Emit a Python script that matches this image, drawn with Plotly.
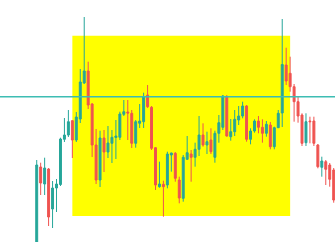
import plotly.graph_objects as go

# OHLC data (price units), one entry per bar
open_ = [100.3, 108.3, 106.6, 108.1, 104.1, 106.2, 106.55, 111.07, 111.5, 112.93,
         111.0, 113.1, 116.7, 117.9, 114.6, 110.5, 107.0, 111.2, 109.8, 110.67,
         111.25, 111.27, 113.57, 113.8, 113.67, 110.67, 112.67, 112.83, 115.5, 114.27,
         110.23, 106.33, 106.57, 106.5, 109.5, 109.67, 107.0, 105.17, 109.07, 109.6,
         109.27, 110.07, 111.5, 110.5, 111.0, 109.27, 111.67, 112.27, 115.33, 111.33,
         111.83, 113.0, 113.4, 114.4, 111.07, 111.9, 112.9, 112.27, 111.67, 112.5,
         110.33, 112.23, 113.7, 118.5, 117.67, 116.33, 114.83, 113.5, 110.73, 112.9,
         112.9, 110.5, 108.27, 108.83, 108.5, 108.0]
high = [109.0, 108.73, 109.23, 108.2, 106.9, 107.1, 111.23, 113.2, 114.0, 113.0,
        113.8, 118.1, 123.3, 118.83, 114.7, 112.1, 111.93, 112.0, 112.4, 112.0,
        113.0, 113.83, 115.0, 115.0, 114.0, 113.0, 114.6, 115.73, 116.5, 114.4,
        110.3, 108.83, 106.93, 109.83, 109.73, 109.8, 107.33, 109.5, 111.4, 110.0,
        110.73, 113.4, 112.67, 111.83, 112.17, 111.93, 113.5, 115.5, 115.5, 113.1,
        114.0, 114.4, 114.83, 114.5, 112.17, 113.07, 113.4, 113.07, 112.9, 112.8,
        112.33, 114.0, 123.1, 120.23, 119.33, 116.6, 115.4, 113.67, 113.67, 113.33,
        113.33, 110.6, 109.33, 109.0, 108.7, 108.2]
low = [99.8, 105.5, 105.5, 102.4, 102.2, 103.8, 106.4, 110.8, 111.3, 109.2,
       110.8, 112.7, 116.6, 114.1, 109.3, 106.6, 106.3, 107.8, 109.2, 108.7,
       109.1, 111.0, 113.4, 111.0, 110.2, 110.23, 112.2, 112.2, 114.2, 110.0,
       106.0, 106.23, 103.33, 106.17, 107.83, 106.83, 104.67, 104.83, 109.0, 106.83,
       108.33, 109.4, 110.33, 109.6, 109.6, 108.73, 110.73, 112.0, 111.33, 110.93,
       111.4, 112.5, 113.17, 110.83, 110.57, 111.73, 111.67, 110.73, 111.33, 110.07,
       110.07, 112.2, 112.3, 116.5, 115.83, 112.83, 112.73, 110.4, 110.4, 110.67,
       110.4, 108.17, 107.33, 106.5, 106.33, 104.73]
close = [108.5, 106.7, 108.2, 103.3, 106.2, 106.6, 111.1, 111.5, 112.83, 111.0,
         113.3, 116.8, 117.9, 114.5, 110.5, 107.0, 111.2, 109.8, 110.7, 111.27,
         111.4, 113.6, 113.83, 113.7, 110.67, 112.83, 112.9, 115.33, 114.33, 110.17,
         106.5, 106.6, 106.33, 109.6, 109.7, 107.17, 105.2, 109.27, 109.73, 109.27,
         110.07, 111.5, 110.5, 110.83, 109.83, 111.67, 112.73, 115.4, 111.4, 111.83,
         113.07, 113.4, 114.4, 111.07, 111.9, 112.9, 112.27, 111.67, 112.57, 110.33,
         112.23, 113.67, 118.55, 116.9, 116.33, 114.83, 113.4, 110.67, 112.83, 112.83,
         110.67, 108.33, 108.9, 108.07, 107.07, 105.0]
bars = list(range(len(close)))

# Annotation values
zone_start, zone_end = 9, 64
zone_low, zone_high = 103.4, 121.43
level = 115.33

UP = "#26a69a"
DOWN = "#ef5350"

fig = go.Figure(go.Candlestick(
    x=bars, open=open_, high=high, low=low, close=close,
    increasing=dict(line=dict(color=UP, width=1), fillcolor=UP),
    decreasing=dict(line=dict(color=DOWN, width=1), fillcolor=DOWN),
    whiskerwidth=0, hoverinfo="skip",
))

fig.add_shape(type="rect", xref="x", yref="y",
              x0=zone_start, x1=zone_end, y0=zone_low, y1=zone_high,
              fillcolor="#ffff00", line=dict(width=0), layer="below")
fig.add_shape(type="line", xref="paper", yref="y",
              x0=0, x1=1, y0=level, y1=level,
              line=dict(color="#3dbdb3", width=1.5), layer="above")

fig.update_layout(
    width=335, height=242,
    margin=dict(l=0, r=0, t=0, b=0),
    paper_bgcolor="white", plot_bgcolor="white",
    showlegend=False,
    boxgap=0.3,
    xaxis=dict(visible=False, range=[-9.27, 75.33], rangeslider=dict(visible=False)),
    yaxis=dict(visible=False, range=[100.8, 125.0]),
)

fig.write_html("out.html")
